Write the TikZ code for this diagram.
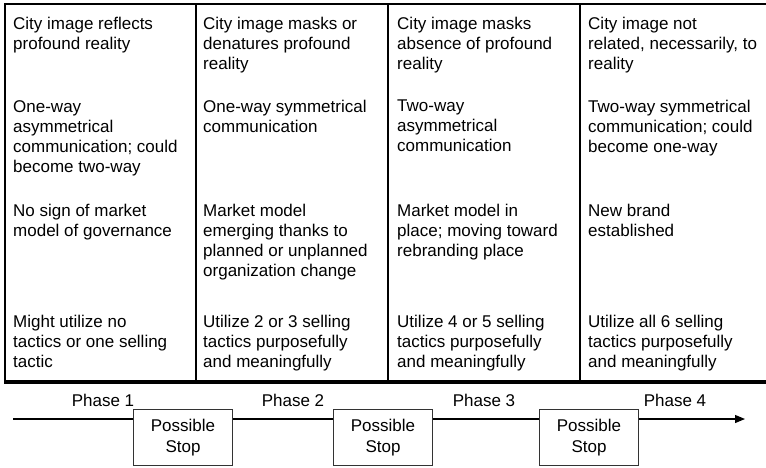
\documentclass[tikz,border=0pt]{standalone}
\usepackage{fontspec}
\setmainfont{Liberation Sans}
\usetikzlibrary{arrows.meta, positioning}

\begin{document}
\begin{tikzpicture}[x=1pt, y=-1pt,
    frame/.style={draw,line width=2pt,outer sep=0pt,inner sep=0pt,minimum width=192pt,minimum height=378pt},
    cell/.style={inner sep=0pt,align=left,font=\fontsize{17}{20}\selectfont},
    stopbox/.style={draw=black!80,line width=1pt,fill=white,inner sep=0pt,minimum width=99pt,minimum height=56pt,align=center,font=\fontsize{17}{21}\selectfont},
    phase/.style={inner sep=0pt,font=\fontsize{17}{20}\selectfont}
  ]
    \useasboundingbox (0,0) rectangle (766,468);

    % the four columns
    \node[frame, minimum width=191pt, anchor=north west] (col1) at (5,4) {};
    \node[frame, right=0pt of col1] (col2) {};
    \node[frame, right=0pt of col2] (col3) {};
    \node[frame, right=0pt of col3] (col4) {};
    \draw[line width=3.5pt] ([xshift=-1pt]col1.south west) -- (col4.south east);

    \node[cell, below right=13pt and 8pt of col1.north west] (img1) {City image reflects\\profound reality};
    \node[cell, below right=96pt and 8pt of col1.north west] (com1) {One-way\\asymmetrical\\communication; could\\become two-way};
    \node[cell, below right=200pt and 8pt of col1.north west] (gov1) {No sign of market\\model of governance};
    \node[cell, below right=311pt and 8pt of col1.north west] (tac1) {Might utilize no\\tactics or one selling\\tactic};

    \node[cell, below right=13pt and 7pt of col2.north west] (img2) {City image masks or\\denatures profound\\reality};
    \node[cell, below right=96pt and 7pt of col2.north west] (com2) {One-way symmetrical\\communication};
    \node[cell, below right=200pt and 7pt of col2.north west] (gov2) {Market model\\emerging thanks to\\planned or unplanned\\organization change};
    \node[cell, below right=311pt and 7pt of col2.north west] (tac2) {Utilize 2 or 3 selling\\tactics purposefully\\and meaningfully};

    \node[cell, below right=13pt and 9pt of col3.north west] (img3) {City image masks\\absence of profound\\reality};
    \node[cell, below right=96pt and 9pt of col3.north west] (com3) {Two-way\\asymmetrical\\communication};
    \node[cell, below right=200pt and 9pt of col3.north west] (gov3) {Market model in\\place; moving toward\\rebranding place};
    \node[cell, below right=311pt and 9pt of col3.north west] (tac3) {Utilize 4 or 5 selling\\tactics purposefully\\and meaningfully};

    \node[cell, below right=13pt and 8pt of col4.north west] (img4) {City image not\\related, necessarily, to\\reality};
    \node[cell, below right=96pt and 8pt of col4.north west] (com4) {Two-way symmetrical\\communication; could\\become one-way};
    \node[cell, below right=200pt and 8pt of col4.north west] (gov4) {New brand\\established};
    \node[cell, below right=311pt and 8pt of col4.north west] (tac4) {Utilize all 6 selling\\tactics purposefully\\and meaningfully};

    % phases along the time line
    \coordinate (start) at (13,419);
    \coordinate (finish) at (745,419);
    \node[stopbox, anchor=north west] (stop1) at (133,409) {Possible\\Stop};
    \node[stopbox, right=100pt of stop1] (stop2) {Possible\\Stop};
    \node[stopbox, right=106pt of stop2] (stop3) {Possible\\Stop};

    \draw[line width=1.2pt] (start) -- (stop1.west |- start);
    \draw[line width=1.2pt] (stop1.east |- start) -- (stop2.west |- start);
    \draw[line width=1.2pt] (stop2.east |- start) -- (stop3.west |- start);
    \draw[line width=1.2pt, -{Triangle[length=10pt,width=8pt]}] (stop3.east |- start) -- (finish);

    \node[phase] (ph1) at (103,400) {Phase 1};
    \node[phase] (ph2) at (293,400) {Phase 2};
    \node[phase] (ph3) at (484,400) {Phase 3};
    \node[phase] (ph4) at (675,400) {Phase 4};
  \end{tikzpicture}
\end{document}
